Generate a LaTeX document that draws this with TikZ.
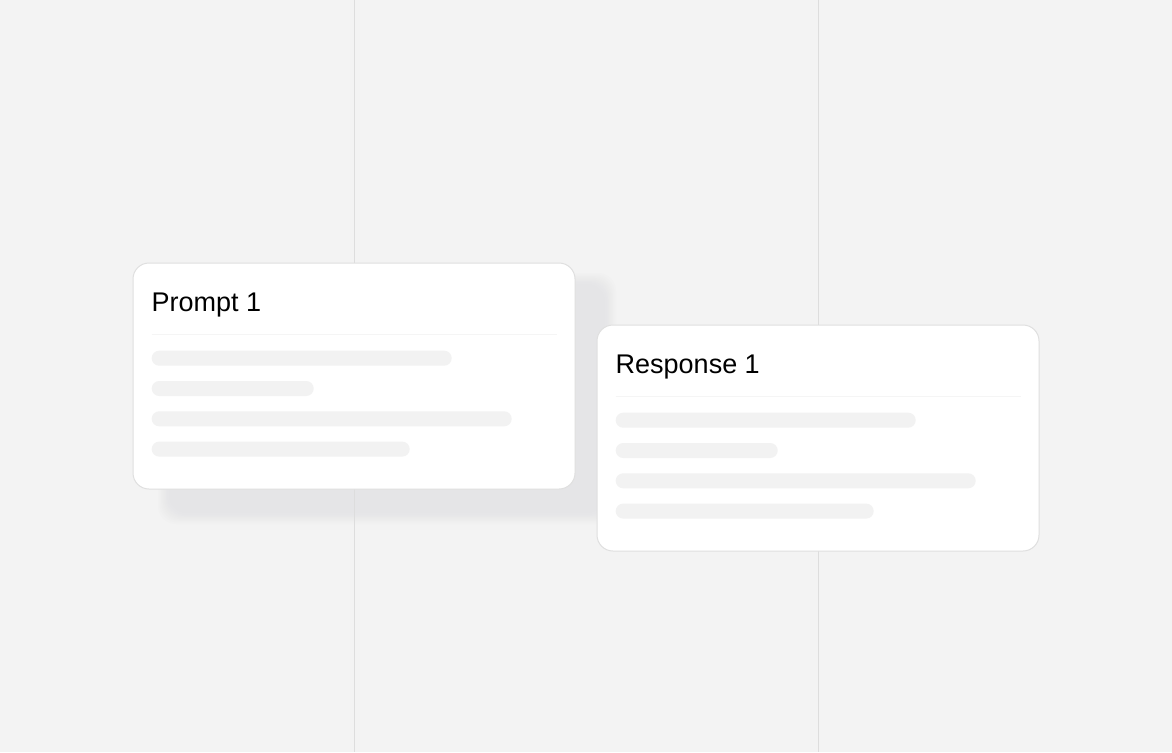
\documentclass[tikz,border=0pt]{standalone}
\usepackage{fontspec}
\setmainfont{Liberation Sans}
\usetikzlibrary{positioning}

\definecolor{bg}{HTML}{F3F3F3}
\definecolor{rule}{HTML}{DDDDDD}
\definecolor{cardline}{HTML}{DFDFDF}
\definecolor{skel}{HTML}{F2F2F2}
\definecolor{shadowgray}{HTML}{D6D6DA}

\begin{document}
\begin{tikzpicture}[x=1pt,y=-1pt,
    card/.style={draw=cardline, fill=white, line width=1pt, rounded corners=16pt,
      minimum width=442pt, minimum height=226pt, inner sep=0pt},
    cardtitle/.style={anchor=base west, inner sep=0pt, text=black,
      font=\fontsize{27}{32}\selectfont},
    divline/.style={draw=skel!80!white, line width=1pt},
    skelbar/.style={fill=skel, rounded corners=7.5pt, minimum height=15pt,
      inner sep=0pt, anchor=north west}]
    \useasboundingbox (0,0) rectangle (1172,752);
    \fill[bg] (0,0) rectangle (1172,752);

    % soft shadow behind the prompt card
    \foreach \i in {0,...,7}
        \fill[shadowgray, opacity=0.06, rounded corners=18pt]
        (158+1.6*\i,273+1.6*\i) rectangle (616-1.6*\i,524-1.6*\i);

    % guide lines
    \coordinate (g1top) at (354,0);
    \coordinate (g1bot) at (354,752);
    \coordinate (g2top) at (818,0);
    \coordinate (g2bot) at (818,752);
    \draw[rule, line width=1pt] (g1top) -- (g1bot);
    \draw[rule, line width=1pt] (g2top) -- (g2bot);

    % prompt card
    \node[card] (prompt) at (354,376) {};
    \node[cardtitle] (ptitle) at ([shift={(19,49)}]prompt.north west) {Prompt 1};
    \draw[divline] ([shift={(19,72)}]prompt.north west) -- ([shift={(-19,72)}]prompt.north east);
    \foreach \w [count=\k] in {300,162,360,258}
        \node[skelbar, minimum width=\w pt] (pbar\k) at ([shift={(19,88+30.3*(\k-1))}]prompt.north west) {};

    % response card
    \node[card] (response) at (818,438) {};
    \node[cardtitle] (rtitle) at ([shift={(19,49)}]response.north west) {Response 1};
    \draw[divline] ([shift={(19,72)}]response.north west) -- ([shift={(-19,72)}]response.north east);
    \foreach \w [count=\k] in {300,162,360,258}
        \node[skelbar, minimum width=\w pt] (rbar\k) at ([shift={(19,88+30.3*(\k-1))}]response.north west) {};
\end{tikzpicture}
\end{document}
